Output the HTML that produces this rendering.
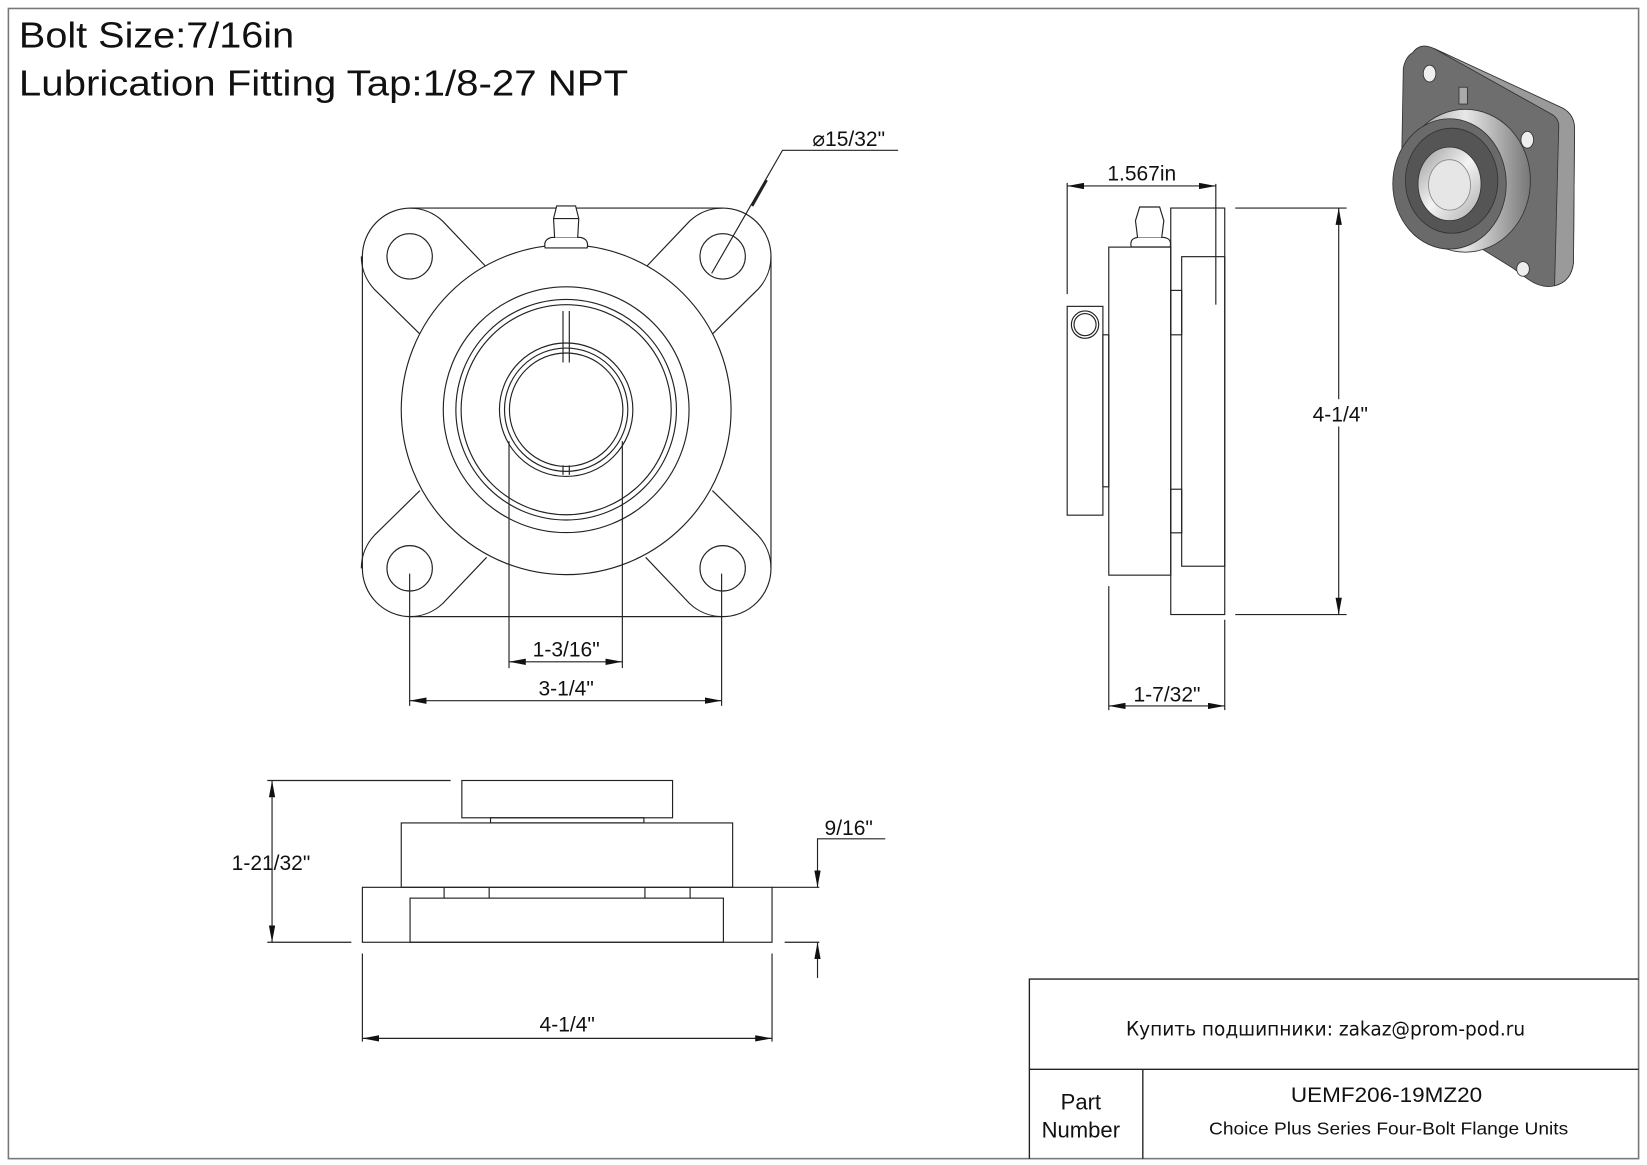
<!DOCTYPE html>
<html><head><meta charset="utf-8"><style>
html,body{margin:0;padding:0;background:#fff;}
svg{display:block;}
text{font-family:"Liberation Sans",Arial,sans-serif;fill:#111;}
</style></head><body>
<svg width="1647" height="1165" viewBox="0 0 1568 1109" xmlns="http://www.w3.org/2000/svg">
<defs>
<marker id="a" viewBox="0 0 16 6" refX="16" refY="3" markerWidth="16" markerHeight="6" markerUnits="userSpaceOnUse" orient="auto-start-reverse"><path d="M0,0 L16,3 L0,6 Z" fill="#111"/></marker>
<g id="corner">
<path d="M356.4,275.4 A46,46 0 0 1 344,244 M390,198 A46,46 0 0 1 421.4,210.4 M421.4,210.4 L463.3,254.5 M356.4,275.4 L399.8,318" fill="none"/>
<circle cx="390" cy="244" r="21.6" fill="none"/>
</g>
<linearGradient id="sil" x1="0" y1="0" x2="1" y2="0">
<stop offset="0" stop-color="#8a8a8a"/><stop offset="0.5" stop-color="#e8e8e8"/><stop offset="1" stop-color="#777"/>
</linearGradient>
<linearGradient id="bore" x1="0" y1="0" x2="1" y2="1">
<stop offset="0" stop-color="#999"/><stop offset="0.5" stop-color="#f4f4f4"/><stop offset="1" stop-color="#aaa"/>
</linearGradient>
</defs>
<rect x="8" y="8" width="1552" height="1095" fill="none" stroke="#777" stroke-width="1.5"/>
<text x="18" y="45" font-size="34" textLength="262" lengthAdjust="spacingAndGlyphs">Bolt Size:7/16in</text>
<text x="18" y="91" font-size="34" textLength="580" lengthAdjust="spacingAndGlyphs">Lubrication Fitting Tap:1/8-27 NPT</text>

<g stroke="#222" stroke-width="1.1" fill="none">
<rect x="345" y="198" width="389" height="389" rx="46"/>
<use href="#corner"/>
<use href="#corner" transform="translate(1078,0) scale(-1,1)"/>
<use href="#corner" transform="translate(0,785) scale(1,-1)"/>
<use href="#corner" transform="translate(1078,785) scale(-1,-1)"/>
<circle cx="539" cy="390" r="157" fill="#fff"/>
<circle cx="539" cy="390" r="117"/>
<circle cx="539" cy="390" r="105"/>
<circle cx="539" cy="390" r="100"/>
<circle cx="539" cy="390" r="63.5"/>
<circle cx="539" cy="390" r="58.7"/>
<circle cx="539" cy="390" r="54"/>
<path d="M536,296 V345 M542,296 V345 M536,443 V452 M542,443 V452"/>
<path d="M519,236 Q517,228 525,226 H553 Q561,228 559,236 Z" fill="#fff"/>
<path d="M528,226 L527,208 L530,196 H548 L551,208 L550,226" fill="#fff"/>
<path d="M527,208 H551"/>
<path d="M390,546 V672 M687,546 V672 M484.6,420 V636 M592.5,420 V636"/>
<path d="M390,667 H687" marker-start="url(#a)" marker-end="url(#a)"/>
<path d="M484.6,630 H592.5" marker-start="url(#a)" marker-end="url(#a)"/>
<path d="M677.5,260.2 L745,143 H855"/>
<path d="M716,196 L729.9,171.4" stroke-width="2.5"/>

<rect x="1055.6" y="235.2" width="59" height="312.3"/>
<rect x="1114.6" y="198" width="51.4" height="387"/>
<rect x="1125" y="244.3" width="41" height="294.7"/>
<rect x="1114.6" y="276.4" width="10.4" height="42.3"/>
<rect x="1114.6" y="465.7" width="10.4" height="41.5"/>
<rect x="1016" y="291.6" width="34" height="198.8" fill="#fff"/>
<rect x="1050" y="318.7" width="5.6" height="144.7"/>
<circle cx="1033" cy="309" r="13"/>
<circle cx="1033" cy="309" r="10.5"/>
<path d="M1077,235 Q1075,227 1083,226 H1108 Q1116,227 1114,235 Z" fill="#fff"/>
<path d="M1083,226 L1081,210 L1085,197 H1104 L1108,210 L1106,226" fill="#fff"/>
<path d="M1016,174 V280 M1157.5,175 V290"/>
<path d="M1016,177 H1157.5" marker-start="url(#a)" marker-end="url(#a)"/>
<path d="M1176,198 H1282 M1176,585 H1282"/>
<path d="M1274.5,198 V585" marker-start="url(#a)" marker-end="url(#a)"/>
<path d="M1055.6,558 V676 M1166,590 V676"/>
<path d="M1055.6,672 H1166" marker-start="url(#a)" marker-end="url(#a)"/>

<rect x="439.7" y="743" width="200.6" height="35.5"/>
<rect x="467" y="778.5" width="146" height="4.9"/>
<rect x="382" y="783.4" width="315.5" height="61.3"/>
<rect x="345" y="844.7" width="390" height="52.3"/>
<rect x="390.4" y="855" width="298.3" height="42"/>
<path d="M422.8,844.7 V855 M465.7,844.7 V855 M614,844.7 V855 M657,844.7 V855"/>
<path d="M254.5,743 H429 M254.5,897 H334.5"/>
<path d="M259,743 V897" marker-start="url(#a)" marker-end="url(#a)"/>
<path d="M735,844.7 H780 M747,897 H780"/>
<path d="M842.8,798.5 H778.3 V844.7" marker-end="url(#a)"/>
<path d="M778.3,931 V897" marker-end="url(#a)"/>
<path d="M345,907.7 V991.6 M735,907.7 V991.6"/>
<path d="M345,988.5 H735" marker-start="url(#a)" marker-end="url(#a)"/>
</g>

<g font-size="20" text-anchor="middle">
<rect x="1255" y="380" width="40" height="26" fill="#fff"/>
<text x="539" y="625">1-3/16"</text>
<text x="539" y="662">3-1/4"</text>
<text x="808" y="139">⌀15/32"</text>
<text x="1087" y="172">1.567in</text>
<text x="1276" y="401">4-1/4"</text>
<text x="1111" y="668">1-7/32"</text>
<text x="258" y="828">1-21/32"</text>
<text x="808" y="795">9/16"</text>
<text x="540" y="982">4-1/4"</text>
</g>

<!-- 3D icon -->
<g stroke="#333" stroke-width="0.8">
<path d="M1345,50 Q1352,40 1365,46 L1488,103 Q1500,110 1499,125 L1498,250 Q1496,268 1480,272 Q1468,275 1455,266 L1440,255 L1345,196 Q1334,190 1334,175 L1336,65 Q1338,54 1345,50 Z" fill="#6e6e6e"/>
<path d="M1365,46 L1488,103 Q1500,110 1499,125 L1498,250 Q1496,268 1480,272 L1484,120 Q1484,112 1476,108 Z" fill="#9a9a9a"/>
<ellipse cx="1361" cy="70" rx="6" ry="8" fill="#eee"/>
<ellipse cx="1454" cy="133" rx="6" ry="8" fill="#eee"/>
<ellipse cx="1450" cy="256" rx="6" ry="7" fill="#eee"/>
<rect x="1389" y="83" width="8" height="16" fill="#aaa"/>
<ellipse cx="1395" cy="172" rx="62" ry="68" fill="url(#sil)"/>
<ellipse cx="1380" cy="175" rx="54" ry="62" fill="#6a6a6a"/>
<ellipse cx="1382" cy="172" rx="44" ry="50" fill="#555"/>
<ellipse cx="1380" cy="175" rx="30" ry="35" fill="url(#bore)"/>
<ellipse cx="1380" cy="176" rx="20" ry="24" fill="#e6e6e6" stroke="#888"/>
</g>

<g stroke="#222" stroke-width="1.3" fill="none">
<path d="M980,1103 V932 H1560 M980,1018 H1560 M1088,1018 V1103"/>
</g>
<text x="1262" y="986" font-size="19" text-anchor="middle" textLength="380" lengthAdjust="spacingAndGlyphs" style="font-family:'DejaVu Sans',sans-serif">Купить подшипники: zakaz@prom-pod.ru</text>
<text x="1029" y="1056" font-size="21" text-anchor="middle">Part</text>
<text x="1029" y="1083" font-size="21" text-anchor="middle">Number</text>
<text x="1320" y="1049" font-size="20" text-anchor="middle" textLength="182" lengthAdjust="spacingAndGlyphs">UEMF206-19MZ20</text>
<text x="1322" y="1080" font-size="17" text-anchor="middle" textLength="342" lengthAdjust="spacingAndGlyphs">Choice Plus Series Four-Bolt Flange Units</text>
</svg>
</body></html>
